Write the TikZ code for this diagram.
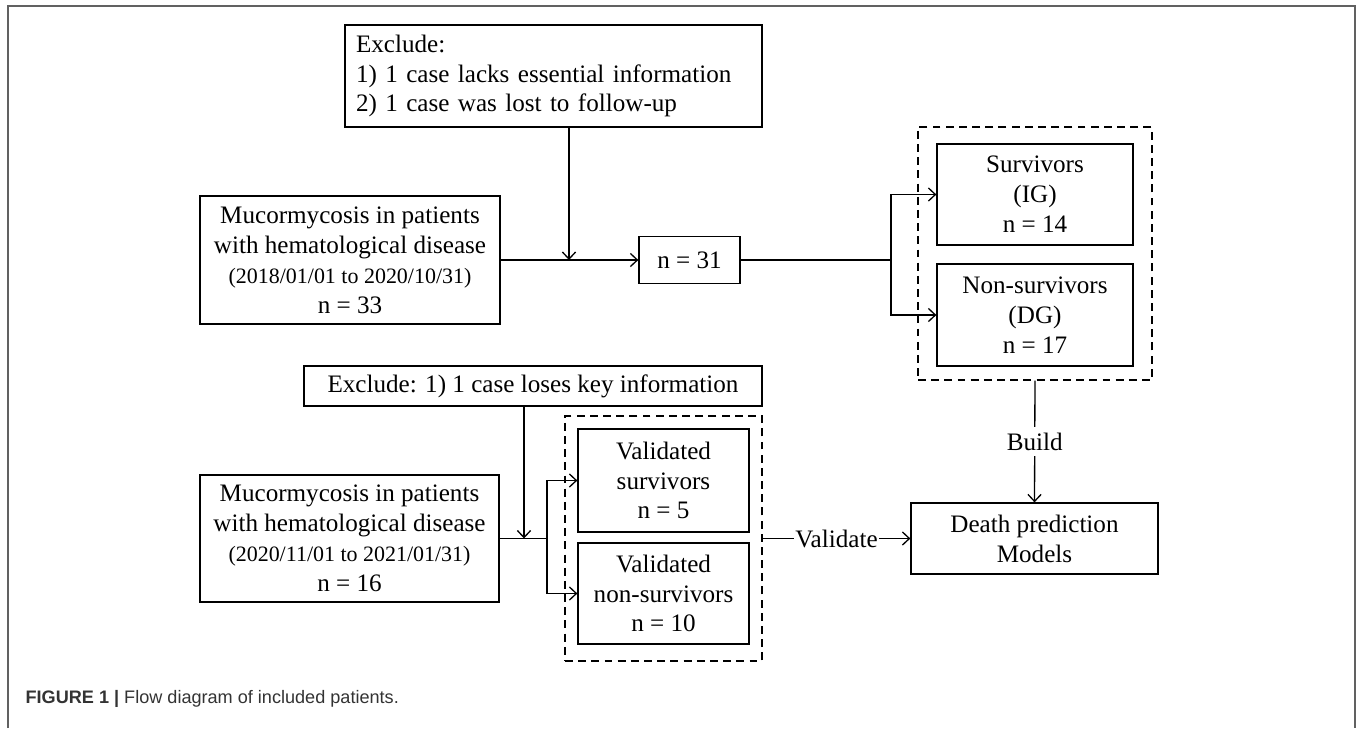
\documentclass[tikz,border=0pt]{standalone}
\usepackage{fontspec}
\setmainfont{Liberation Serif}
\newfontfamily\capfont{Liberation Sans}
\usetikzlibrary{arrows,arrows.meta,positioning}

\begin{document}
\begin{tikzpicture}[x=0.02cm,y=-0.02cm,line width=0.75pt,
    >={Straight Barb[length=4pt,width=7.5pt]},
    box/.style={draw,rectangle,inner sep=0pt,align=center,
        font=\fontsize{14.3}{17}\selectfont},
    group/.style={draw,dashed,dash pattern=on 4.5pt off 3pt,rectangle,inner sep=0pt}]
    \useasboundingbox (0,0) rectangle (1357,728);

    % outer frame
    \draw[line width=1.1pt,black!62] (8,728) -- (8,6) -- (1355,6) -- (1355,728);

    % first cohort
    \node[box,align=left,text width=7.9cm,inner xsep=0.22cm,minimum width=8.34cm,minimum height=2.04cm]
        (ex1) at (553.5,76) {Exclude:\\1) 1 case lacks essential information\\2) 1 case was lost to follow-up};
    \node[box,minimum width=6cm,minimum height=2.56cm] (muc1) at (350,260)
        {Mucormycosis in patients\\with hematological disease\\{\fontsize{12.5}{15}\selectfont (2018/01/01 to 2020/10/31)}\\n = 33};
    \node[box,minimum width=2.02cm,minimum height=0.94cm] (n31) at (689.5,260) {n = 31};

    % training groups
    \node[group,minimum width=4.68cm,minimum height=5.06cm] (grp1) at (1035,253.5) {};
    \node[box,minimum width=3.92cm,minimum height=2.02cm] (surv) at (1035,194.5) {Survivors\\(IG)\\n = 14};
    \node[box,minimum width=3.92cm,minimum height=2.04cm] (nsurv) at (1035,315) {Non-survivors\\(DG)\\n = 17};

    % second cohort
    \node[box,minimum width=9.16cm,minimum height=0.8cm] (ex2) at (533,386) {Exclude: 1) 1 case loses key information};
    \node[box,minimum width=5.98cm,minimum height=2.54cm] (muc2) at (349.5,538.5)
        {Mucormycosis in patients\\with hematological disease\\{\fontsize{12.5}{15}\selectfont (2020/11/01 to 2021/01/31)}\\n = 16};

    % validation groups
    \node[group,minimum width=3.94cm,minimum height=4.9cm] (grp2) at (663.5,538.5) {};
    \node[box,minimum width=3.42cm,minimum height=2.06cm] (vsurv) at (663.5,480.5) {Validated\\survivors\\n = 5};
    \node[box,minimum width=3.42cm,minimum height=2.02cm] (vnsurv) at (663.5,593.5) {Validated\\non-survivors\\n = 10};

    % model
    \node[box,minimum width=4.94cm,minimum height=1.42cm] (death) at (1034.5,538.5) {Death prediction\\Models};

    % junctions
    \coordinate (m1) at (569,260);
    \coordinate (split1) at (891,260);
    \coordinate (m2) at (524,538.5);
    \coordinate (split2) at (547,538.5);

    % first cohort arrows
    \draw[->] (muc1.east) -- (n31.west);
    \draw[->] (ex1.south -| m1) -- (m1);
    \draw (n31.east) -- (split1);
    \draw[->] (split1) |- (surv.west);
    \draw[->] (split1) |- (nsurv.west);

    % second cohort arrows
    \draw (muc2.east) -- (split2);
    \draw[->] (ex2.south -| m2) -- (m2);
    \draw[->] (split2) |- (vsurv.west);
    \draw[->] (split2) |- (vnsurv.west);

    % build and validate
    \draw[->] (grp1.south) -- node[fill=white,inner sep=3pt,font=\fontsize{14.3}{17}\selectfont] {Build} (death.north);
    \draw[->] (grp2.east) -- node[fill=white,inner sep=1pt,font=\fontsize{14.3}{17}\selectfont] {Validate} (death.west);

    % caption
    \node[anchor=base west,inner sep=0pt,text=black!80,font=\capfont\fontsize{10.3}{12}\selectfont] (cap) at (25,703)
        {\textbf{FIGURE 1 |} Flow diagram of included patients.};
\end{tikzpicture}
\end{document}
